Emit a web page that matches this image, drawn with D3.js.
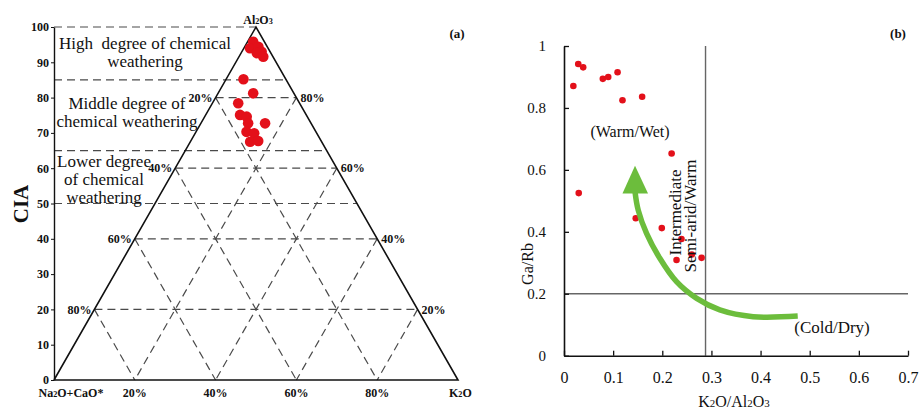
<!DOCTYPE html>
<html><head><meta charset="utf-8">
<script src="https://cdn.jsdelivr.net/npm/d3@7"></script>
<style>
body{margin:0;background:#fff}
svg{display:block}
text{font-family:"Liberation Serif","Times New Roman",serif;fill:#111}
</style>
</head><body>
<svg id="c" width="920" height="412"></svg>
<script>
// ---------- DATA ----------
// Panel (a): ternary A-CN-K, CIA (= Al2O3 %) and K2O %
const ciaValues = [95.8, 94.0, 94.4, 93.0, 92.6, 91.6, 85.2, 81.2, 78.4, 75.1, 74.6, 72.7, 72.7, 70.3, 69.9, 67.5, 67.7];
const k2oValues = [1.4, 1.5, 3.4, 4.9, 3.9, 6.0, 4.3, 8.7, 6.4, 8.5, 10.4, 11.7, 15.9, 12.5, 14.6, 14.8, 16.7];
const ciaTicks = [0, 10, 20, 30, 40, 50, 60, 70, 80, 90, 100];
const ternaryTicks = [20, 40, 60, 80];
const zoneLevels = [100, 85, 65, 50];
const zoneLabels = [
  {lines: ["High  degree of chemical", "weathering"], cia: 92.9},
  {lines: ["Middle degree of", "chemical weathering"], cia: 75.9},
  {lines: ["Lower degree", "of chemical", "weathering"], cia: 56.9}
];
// Panel (b): K2O/Al2O3 vs Ga/Rb
const k2oAl2o3 = [0.019, 0.029, 0.039, 0.079, 0.090, 0.109, 0.119, 0.159, 0.219, 0.030, 0.146, 0.199, 0.239, 0.229, 0.260, 0.280];
const gaRb     = [0.871, 0.942, 0.931, 0.894, 0.900, 0.915, 0.825, 0.836, 0.653, 0.525, 0.444, 0.412, 0.377, 0.309, 0.327, 0.316];
const xTicksB = [0, 0.1, 0.2, 0.3, 0.4, 0.5, 0.6, 0.7];
const yTicksB = [0, 0.2, 0.4, 0.6, 0.8, 1];
const k2oThreshold = 0.288;
const gaRbThreshold = 0.2;
// green trend arrow (data units of panel b)
const arrowX = [0.4756, 0.385, 0.317, 0.270, 0.229, 0.195, 0.168, 0.151, 0.1445];
const arrowY = [0.128, 0.126, 0.148, 0.185, 0.239, 0.3145, 0.395, 0.470, 0.530];
const arrowHeadTip = [0.1445, 0.6135];
const arrowHeadBase = [[0.119, 0.524], [0.171, 0.524]];

const svg = d3.select("#c");
const red = "#e3101a";

// ---------- PANEL (a) ----------
const xT = d3.scaleLinear().domain([0, 100]).range([54, 458]);
const yT = d3.scaleLinear().domain([0, 100]).range([380, 27]);
const P = (a, k) => [xT(k + a / 2), yT(a)];
const ga = svg.append("g");
const dash = {stroke: "#4a4a4a", "stroke-width": 1.2, "stroke-dasharray": "8,5"};
function dline(g, p1, p2) {
  const l = g.append("line").attr("x1", p1[0]).attr("y1", p1[1]).attr("x2", p2[0]).attr("y2", p2[1]);
  for (const k in dash) l.attr(k, dash[k]);
}
zoneLevels.forEach(a => dline(ga, [xT(0), yT(a)], [xT(100 - a / 2), yT(a)]));
ternaryTicks.forEach(g => {
  dline(ga, P(g, 0), P(g, 100 - g));
  dline(ga, P(100 - g, 0), P(0, 100 - g));
  dline(ga, P(100 - g, g), P(0, g));
});
ga.append("path")
  .attr("d", d3.line()([P(0, 0), P(0, 100), P(100, 0), P(0, 0)]))
  .attr("fill", "none").attr("stroke", "#111").attr("stroke-width", 1.6);
const axA = ga.append("g").attr("transform", `translate(${xT(0)},0)`)
  .call(d3.axisLeft(yT).tickValues(ciaTicks).tickSize(3).tickSizeOuter(0).tickPadding(2));
axA.select(".domain").attr("stroke", "#111").attr("stroke-width", 1.4);
axA.selectAll(".tick line").attr("stroke", "#111");
axA.selectAll("text").attr("font-size", 12).attr("font-weight", "bold")
  .attr("font-family", '"Liberation Serif",serif').attr("fill", "#111");
ternaryTicks.forEach(g => {
  const a = 100 - g;
  ga.append("text").attr("x", xT(a / 2) - 3).attr("y", yT(a)).attr("dy", "0.35em")
    .attr("text-anchor", "end").attr("font-size", 12).attr("font-weight", "bold").text(g + "%");
  ga.append("text").attr("x", xT(100 - g / 2) + 4).attr("y", yT(g)).attr("dy", "0.35em")
    .attr("text-anchor", "start").attr("font-size", 12).attr("font-weight", "bold").text(g + "%");
  ga.append("text").attr("x", xT(g)).attr("y", 393).attr("dy", "0.35em")
    .attr("text-anchor", "middle").attr("font-size", 12).attr("font-weight", "bold").text(g + "%");
});
function chem(g, x, y, parts, size, anchor, weight) {
  const t = g.append("text").attr("x", x).attr("y", y).attr("dy", "0.35em")
    .attr("text-anchor", anchor).attr("font-size", size).attr("font-weight", weight);
  parts.forEach(p => {
    if (/^[0-9]$/.test(p)) t.append("tspan").attr("font-size", size * 0.68).text(p);
    else t.append("tspan").text(p);
  });
  return t;
}
chem(ga, 258, 20, ["Al", "2", "O", "3"], 12, "middle", "bold");
chem(ga, 71, 393, ["Na", "2", "O+CaO*"], 12, "middle", "bold");
chem(ga, 449, 393, ["K", "2", "O"], 12, "start", "bold");
ga.append("text").attr("transform", `translate(21,204) rotate(-90)`).attr("dy", "0.35em")
  .attr("text-anchor", "middle").attr("font-size", 21).attr("font-weight", "bold").text("CIA");
ga.append("text").attr("x", 457).attr("y", 33).attr("dy", "0.35em")
  .attr("text-anchor", "middle").attr("font-size", 13).attr("font-weight", "bold").text("(a)");
const zoneX = [145, 127, 104];
zoneLabels.forEach((z, i) => {
  z.lines.forEach((ln, j) => {
    ga.append("text").attr("x", zoneX[i]).attr("y", yT(z.cia) + (j - (z.lines.length - 1) / 2) * 18)
      .attr("dy", "0.35em").attr("text-anchor", "middle").attr("font-size", 17)
      .attr("xml:space", "preserve").style("white-space", "pre").text(ln);
  });
});
ga.selectAll("circle").data(ciaValues).join("circle")
  .attr("cx", (d, i) => P(d, k2oValues[i])[0])
  .attr("cy", d => yT(d))
  .attr("r", 5.3).attr("fill", red);

// ---------- PANEL (b) ----------
const xB = d3.scaleLinear().domain([0, 0.7]).range([564, 908]);
const yB = d3.scaleLinear().domain([0, 1]).range([355.7, 46]);
const gb = svg.append("g");
gb.append("line").attr("x1", xB(k2oThreshold)).attr("x2", xB(k2oThreshold))
  .attr("y1", yB(0)).attr("y2", yB(1)).attr("stroke", "#666").attr("stroke-width", 1.4);
gb.append("line").attr("x1", xB(0)).attr("x2", xB(0.7))
  .attr("y1", yB(gaRbThreshold)).attr("y2", yB(gaRbThreshold)).attr("stroke", "#666").attr("stroke-width", 1.4);
const fmt = d3.format("~g");
const axX = gb.append("g").attr("transform", `translate(0,${yB(0)})`)
  .call(d3.axisBottom(xB).tickValues(xTicksB).tickFormat(fmt).tickSizeInner(-5).tickSizeOuter(0).tickPadding(16));
const axY = gb.append("g").attr("transform", `translate(${xB(0)},0)`)
  .call(d3.axisLeft(yB).tickValues(yTicksB).tickFormat(fmt).tickSizeInner(-5).tickSizeOuter(0).tickPadding(18));
[axX, axY].forEach(ax => {
  ax.select(".domain").attr("stroke", "#111").attr("stroke-width", 1.6);
  ax.selectAll(".tick line").attr("stroke", "#111").attr("stroke-width", 1.3);
  ax.selectAll("text").attr("font-family", '"Liberation Serif",serif').attr("fill", "#111");
});
axX.selectAll("text").attr("font-size", 16);
axY.selectAll("text").attr("font-size", 15);
gb.selectAll("circle.pt").data(k2oAl2o3).join("circle").attr("class", "pt")
  .attr("cx", d => xB(d)).attr("cy", (d, i) => yB(gaRb[i])).attr("r", 3.3).attr("fill", red);
const arrowPts = arrowX.map((x, i) => [xB(x), yB(arrowY[i])]);
gb.append("path").attr("d", d3.line().curve(d3.curveCatmullRom)(arrowPts))
  .attr("fill", "none").attr("stroke", "#6cbd3c").attr("stroke-width", 5.5).attr("stroke-linecap", "butt");
gb.append("path").attr("d", d3.line()([
  [xB(arrowHeadBase[0][0]), yB(arrowHeadBase[0][1])],
  [xB(arrowHeadTip[0]), yB(arrowHeadTip[1])],
  [xB(arrowHeadBase[1][0]), yB(arrowHeadBase[1][1])]
]) + "Z").attr("fill", "#6cbd3c");
gb.append("text").attr("x", 630).attr("y", 131).attr("dy", "0.35em").attr("text-anchor", "middle")
  .attr("font-size", 16).text("(Warm/Wet)");
gb.append("text").attr("x", 832).attr("y", 327.5).attr("dy", "0.35em").attr("text-anchor", "middle")
  .attr("font-size", 17).text("(Cold/Dry)");
gb.append("text").attr("transform", "translate(681,212.5) rotate(-90)").attr("text-anchor", "middle")
  .attr("font-size", 17).text("Intermediate");
gb.append("text").attr("transform", "translate(696,216) rotate(-90)").attr("text-anchor", "middle")
  .attr("font-size", 17).text("Semi-arid/Warm");
gb.append("text").attr("transform", "translate(527,264) rotate(-90)").attr("dy", "0.35em")
  .attr("text-anchor", "middle").attr("font-size", 16).text("Ga/Rb");
chem(gb, 734, 401, ["K", "2", "O/Al", "2", "O", "3"], 16, "middle", "normal");
gb.append("text").attr("x", 898).attr("y", 33).attr("dy", "0.35em")
  .attr("text-anchor", "middle").attr("font-size", 13).attr("font-weight", "bold").text("(b)");
</script>
</body></html>
